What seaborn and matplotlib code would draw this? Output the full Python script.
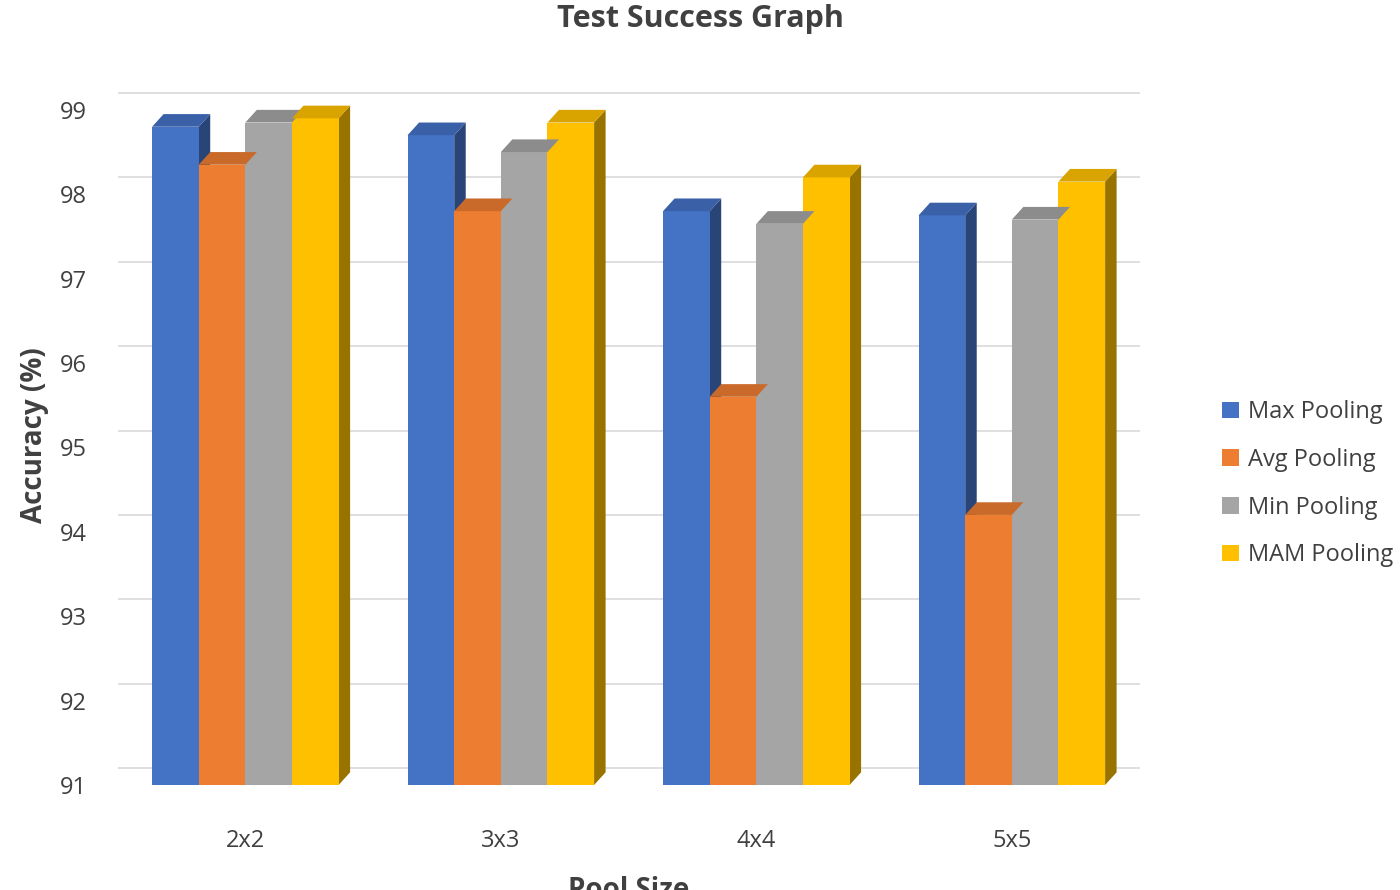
import matplotlib
matplotlib.use("Agg")
import matplotlib.pyplot as plt
import seaborn as sns
import pandas as pd
from matplotlib.patches import Polygon

pool_sizes = ["2x2", "3x3", "4x4", "5x5"]
methods = ["Max Pooling", "Avg Pooling", "Min Pooling", "MAM Pooling"]
max_pool = [98.8, 98.7, 97.8, 97.75]
avg_pool = [98.35, 97.8, 95.6, 94.2]
min_pool = [98.85, 98.5, 97.65, 97.7]
mam_pool = [98.9, 98.85, 98.2, 98.15]
colors = ["#4472C4", "#ED7D31", "#A5A5A5", "#FFC000"]

rows = []
for m, vals in zip(methods, [max_pool, avg_pool, min_pool, mam_pool]):
    for p, v in zip(pool_sizes, vals):
        rows.append({"Pool Size": p, "Method": m, "Accuracy": v})
df = pd.DataFrame(rows)

sns.set_style("white")
plt.rcParams['font.family'] = ['Open Sans', 'DejaVu Sans']
fig = plt.figure(figsize=(14, 8.9), dpi=100)
ax = fig.add_axes([0.084, 0.118, 0.73, 0.787])
ax.set_ylim(91, 99.3)
for yv in range(91, 100):
    ax.axhline(yv + 0.2, color="#D9D9D9", lw=1.2, zorder=0)
sns.barplot(data=df, x="Pool Size", y="Accuracy", hue="Method", palette=colors,
            width=0.73, gap=0, saturation=1, ax=ax, zorder=2, legend=True, linewidth=0)

dx, dy = 0.045, 0.15
for bar in ax.patches:
    if bar.get_height() == 0 or bar.get_width() == 0:
        continue
    x0, w = bar.get_x(), bar.get_width()
    y0 = 91
    top = bar.get_y() + bar.get_height()
    col = bar.get_facecolor()
    dark = tuple(c * 0.6 for c in col[:3])
    lighter = tuple(c * 0.85 for c in col[:3])
    bar.set_y(y0); bar.set_height(top - y0)
    bar.set_edgecolor("none")
    ax.add_patch(Polygon([(x0 + w, y0), (x0 + w + dx, y0 + dy), (x0 + w + dx, top + dy), (x0 + w, top)],
                         closed=True, fc=dark, ec="none", zorder=1.9))
    ax.add_patch(Polygon([(x0, top), (x0 + dx, top + dy), (x0 + w + dx, top + dy), (x0 + w, top)],
                         closed=True, fc=lighter, ec="none", zorder=2.1))

for s in ax.spines.values():
    s.set_visible(False)
ax.set_yticks(range(91, 100))
ax.tick_params(axis="both", labelsize=17, colors="#404040", length=0)
ax.tick_params(axis="x", pad=32)
ax.tick_params(axis="y", pad=22)
ax.set_xlabel("Pool Size", fontsize=20, fontweight="bold", color="#404040", labelpad=16)
ax.set_ylabel("Accuracy (%)", fontsize=20, fontweight="bold", color="#404040", labelpad=8)
fig.suptitle("Test Success Graph", fontsize=22, fontweight="bold", color="#404040", y=0.995)
h, l = ax.get_legend_handles_labels()
ax.legend(h[:4], l[:4], loc="center left", bbox_to_anchor=(1.06, 0.43), frameon=False,
          fontsize=17, handlelength=0.7, handleheight=0.7, handletextpad=0.4, labelspacing=1.0,
          labelcolor="#404040")
fig.savefig("out.png", dpi=100)
